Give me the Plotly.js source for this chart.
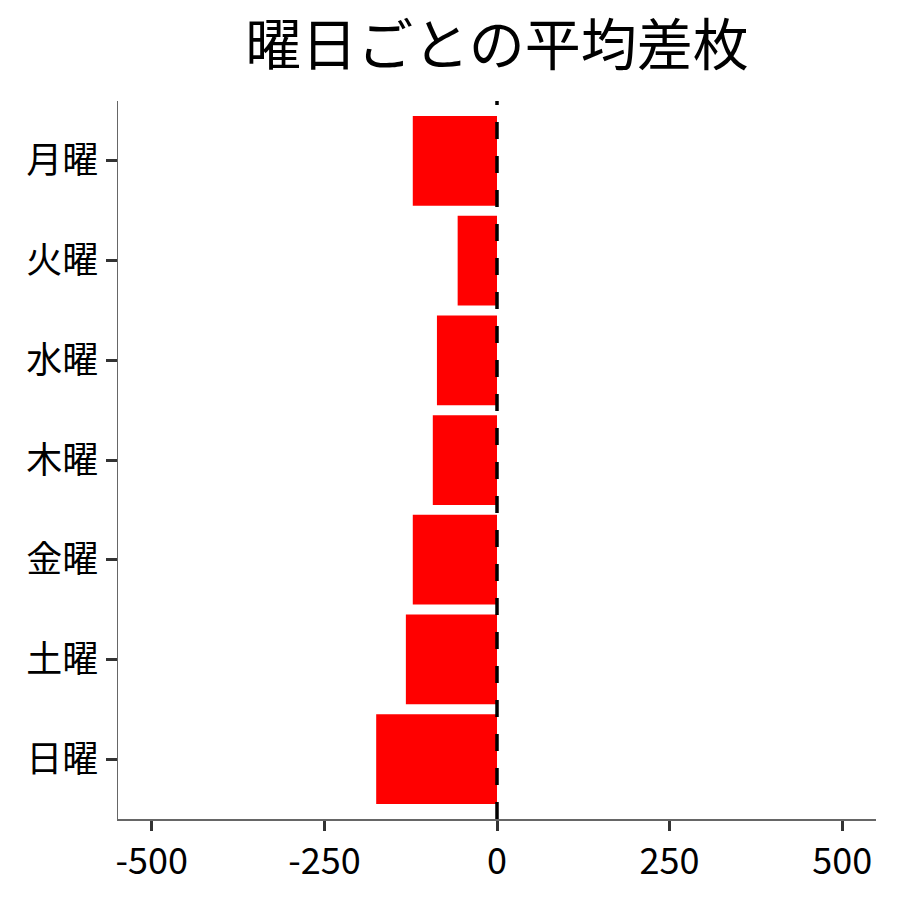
<!DOCTYPE html>
<html>
<head>
<meta charset="utf-8">
<script src="https://cdn.plot.ly/plotly-3.0.1.min.js"></script>
<style>
  html, body { margin: 0; padding: 0; background: #fff; }
  #chart { width: 900px; height: 900px; }
</style>
</head>
<body>
<div id="chart"></div>
<script>
// 曜日 (top to bottom)
const days = ["月曜", "火曜", "水曜", "木曜", "金曜", "土曜", "日曜"];
// average difference per weekday
const avgDiff = [-122, -57, -87, -93, -122, -132, -175];
const xTicks = [-500, -250, 0, 250, 500];

const trace = {
  type: "bar",
  orientation: "h",
  x: avgDiff,
  y: days,
  marker: { color: "#ff0000" },
  hoverinfo: "x+y",
};

const layout = {
  width: 900,
  height: 900,
  margin: { l: 118, r: 24, t: 101, b: 81 },
  paper_bgcolor: "#fff",
  plot_bgcolor: "#fff",
  font: { family: "Noto Sans CJK JP, Noto Sans, sans-serif", color: "#000" },
  title: {
    text: "曜日ごとの平均差枚",
    font: { size: 56, color: "#000" },
    xref: "paper",
    x: 0.5,
    xanchor: "center",
    y: 0.95,
    yanchor: "middle",
  },
  bargap: 0.1,
  showlegend: false,
  xaxis: {
    range: [-549, 549],
    tickvals: xTicks,
    ticktext: xTicks.map(String),
    zeroline: false,
    showgrid: false,
    showline: true,
    linecolor: "#666",
    linewidth: 1.5,
    ticks: "outside",
    ticklen: 10,
    tickwidth: 3,
    tickcolor: "#333",
    tickfont: { size: 36, color: "#000" },
  },
  yaxis: {
    categoryorder: "array",
    categoryarray: days,
    autorange: false,
    range: [6.6, -0.6],
    showgrid: false,
    zeroline: false,
    showline: true,
    linecolor: "#666",
    linewidth: 1.5,
    ticks: "outside",
    ticklen: 11,
    tickwidth: 3,
    tickcolor: "#333",
    tickfont: { size: 36, color: "#000" },
  },
  shapes: [
    {
      type: "line",
      xref: "x",
      yref: "paper",
      x0: 0,
      x1: 0,
      y0: 0,
      y1: 1,
      line: { color: "#000", width: 3.5, dash: "17px,17px" },
    },
  ],
};

Plotly.newPlot("chart", [trace], layout, { displayModeBar: false, staticPlot: true });
</script>
</body>
</html>
